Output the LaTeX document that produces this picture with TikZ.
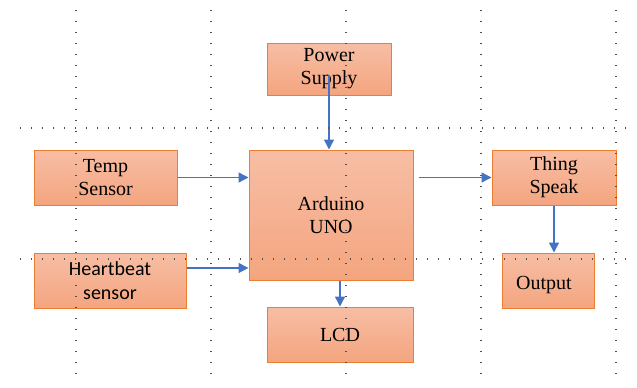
\documentclass[tikz,border=0pt]{standalone}
\usepackage{fontspec}
\setmainfont{Liberation Serif}
\newfontfamily\calibri{Carlito}
\usetikzlibrary{arrows.meta}
\definecolor{boxtop}{HTML}{F7BEA5}
\definecolor{boxbot}{HTML}{F4A57F}
\definecolor{boxline}{HTML}{ED7D31}
\definecolor{arrowblue}{HTML}{4472C4}
\definecolor{griddot}{HTML}{505050}

\begin{document}
\begin{tikzpicture}[x=0.75pt,y=-0.75pt,>={Triangle[length=7.5pt,width=7.5pt]},line width=0.75pt]
\tikzstyle{block}=[draw=boxline,top color=boxtop,bottom color=boxbot,align=center,inner sep=0pt,font=\fontsize{15}{17.25}\selectfont]
\tikzstyle{link}=[->,draw=arrowblue,fill=arrowblue,line width=1pt]
\tikzstyle{dotline}=[griddot,line width=0.9pt,dash pattern=on 0.9pt off 7.35pt]
\useasboundingbox (0,0) rectangle (637,387);
% blocks
\node[block,minimum width=93pt,minimum height=39pt] (ps) at (329,69) {Power\\Supply};
\node[block,minimum width=107.25pt,minimum height=41.25pt] (ts) at (105.5,177.5) {Temp\\Sensor};
\node[block,minimum width=123pt,minimum height=97.5pt] (ard) at (331,215) {Arduino\\UNO};
\node[block,minimum width=93pt,minimum height=41.25pt] (tsp) at (554,177.5) {Thing\\Speak};
\node[block,minimum width=114pt,minimum height=41.25pt,font=\calibri\fontsize{15}{18}\selectfont] (hb) at (110,280.5) {Heartbeat\\sensor};
\node[block,minimum width=109.5pt,minimum height=41.25pt] (lcd) at (340,334.5) {LCD};
\node[block,minimum width=69pt,minimum height=41.25pt,align=left,text height=14pt,text depth=0pt] (out) at (548,280.5) {\hspace*{-6pt}Output};
% connectors
\draw[link] ([yshift=-4.5pt]ps.center) -- (ps.center |- ard.north);
\draw[link] (ts.east) -- (ts.east -| ard.west);
\draw[link] ([xshift=3.75pt]ard.east |- tsp.west) -- (tsp.west);
\draw[link] ([yshift=9.4pt]hb.east) -- ([yshift=9.4pt]hb.east -| ard.west);
\draw[link] (lcd.north |- ard.south) -- (lcd.north);
\draw[link] (tsp.south) -- (tsp.south |- out.north);
% dotted grid
\draw[dotline] (76,10) -- (76,380);
\draw[dotline] (211,10) -- (211,380);
\draw[dotline] (346,10) -- (346,380);
\draw[dotline] (481,10) -- (481,380);
\draw[dotline] (616,10) -- (616,380);
\draw[dotline] (20,128) -- (630,128);
\draw[dotline] (20,259) -- (630,259);
\end{tikzpicture}
\end{document}
